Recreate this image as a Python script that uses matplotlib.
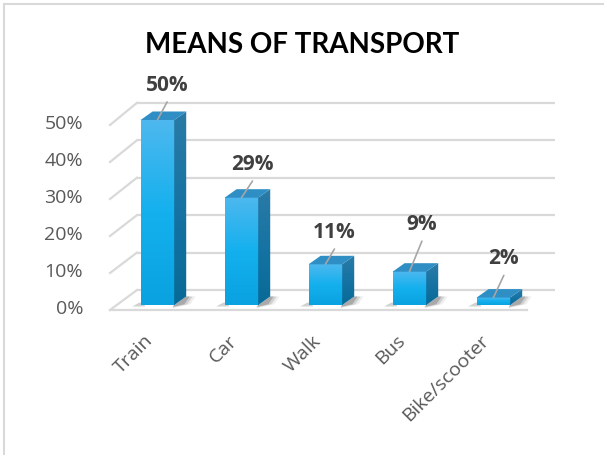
import numpy as np
import matplotlib
matplotlib.use("Agg")
from matplotlib import pyplot as plt
from matplotlib.patches import Polygon
from matplotlib.colors import LinearSegmentedColormap

categories = ['Train', 'Car', 'Walk', 'Bus', 'Bike/scooter']
shares = [50, 29, 11, 9, 2]
yticks = [0, 10, 20, 30, 40, 50]
ytick_labels = ['0%', '10%', '20%', '30%', '40%', '50%']

# label offsets (points) for the data labels, as Excel placed them
label_dx = [7, 8, 6.5, 9, 7.5]
label_dy = [25, 24, 23, 34, 28]

fig = plt.figure(figsize=(6.04, 4.55), dpi=100)
# axes placed so 1 category = 84 px and 1% = 3.7 px
ax = fig.add_axes([100/604, 125/455, 470/604, 270/455])
ax.axis('off')

# chart border (left / top only visible)
fig.add_artist(plt.Line2D([4/604, 4/604], [0, 1-4/455], color='#d9d9d9', lw=1.5))
fig.add_artist(plt.Line2D([4/604, 1], [1-4/455, 1-4/455], color='#d9d9d9', lw=1.5))

grid_c = '#d9d9d9'
x_front, x_back = -0.564, -0.243
x_front_end, x_back_end = 4.40, 4.73
for v in yticks:
    yb = v*1.012 + 4.05
    yf = v - 1.35
    ax.plot([x_back, x_back_end], [yb, yb], color=grid_c, lw=1.6, zorder=1, solid_capstyle='butt')
    ax.plot([x_front, x_back], [yf, yb], color=grid_c, lw=1.6, zorder=1)
ax.plot([x_front, x_front_end], [-1.35, -1.35], color=grid_c, lw=1.6, zorder=1)

for v, lab in zip(yticks, ytick_labels):
    ax.text(-17/470, v - 1.0, lab, transform=ax.get_yaxis_transform(),
            ha='right', va='center', fontsize=14, color='#595959', family='Open Sans')

front_cmap = LinearSegmentedColormap.from_list('f', ['#4db8ee', '#14b0ee', '#0aa2e0'])
side_cmap = LinearSegmentedColormap.from_list('s', ['#2a7ba6', '#1673a3', '#086a97'])
grad = np.linspace(0, 1, 100).reshape(-1, 1)

w = 0.4
ddx, ddy = 0.143, 2.3
for i, (cat, v) in enumerate(zip(categories, shares)):
    x0, x1 = i - w/2, i + w/2
    # soft shadow on the floor
    for k, a in enumerate([0.08, 0.14, 0.22]):
        s = 0.035*(2-k)
        shadow = Polygon([(x1-0.02, -0.5 - 0.2*(2-k)), (x1 + 0.12 + s, 0.2), (x1 + ddx + 0.04 + s, ddy),
                          (x1 + ddx, ddy), (x1, 0)], closed=True, color='#202020',
                         alpha=a, lw=0, zorder=2)
        ax.add_patch(shadow)
    ax.add_patch(Polygon([(x0 - 0.1, -0.4), (x0 + 0.05, -0.4), (x0 + 0.05, 0.8), (x0 - 0.02, 0.6)],
                         closed=True, color='#303030', alpha=0.22, lw=0, zorder=2))
    # front face
    ax.imshow(grad, extent=[x0, x1, 0, v], aspect='auto', cmap=front_cmap,
              origin='upper', zorder=3, interpolation='bilinear')
    # side face
    side = Polygon([(x1, 0), (x1 + ddx, ddy), (x1 + ddx, v + ddy), (x1, v)], closed=True,
                   facecolor='none', lw=0)
    ax.add_patch(side)
    im = ax.imshow(grad, extent=[x1, x1 + ddx, 0, v + ddy], aspect='auto', cmap=side_cmap,
                   origin='upper', zorder=3, interpolation='bilinear')
    im.set_clip_path(side)
    # top face
    ax.add_patch(Polygon([(x0, v), (x0 + ddx, v + ddy), (x1 + ddx, v + ddy), (x1, v)],
                         closed=True, facecolor='#2f8ec4', lw=0, zorder=3))
    # data label with leader line
    ax.annotate('', xy=(i, v), xytext=(label_dx[i], label_dy[i] - 12),
                textcoords='offset points',
                arrowprops=dict(arrowstyle='-', color='#a6a6a6', lw=1.2, shrinkA=0, shrinkB=0),
                zorder=4)
    ax.annotate(f'{v}%', xy=(i, v), xytext=(label_dx[i], label_dy[i]),
                textcoords='offset points', ha='center', va='center',
                fontsize=15, fontweight='bold', color='#404040', family='Open Sans', zorder=5)
    # category label
    ax.text(i - 0.16, -7.2, cat, rotation=45, rotation_mode='anchor', ha='right', va='top',
            fontsize=14, color='#595959', family='Open Sans')

ax.set_xlim((100-157.4)/84, (570-157.4)/84)
ax.set_ylim((305-330)/3.7, (305-60)/3.7)

fig.text(0.5, 1 - 45/455, 'MEANS OF TRANSPORT', ha='center', va='center',
         fontsize=20, fontweight='bold', color='black', family='Lato')

plt.savefig('out.png', dpi=100)
